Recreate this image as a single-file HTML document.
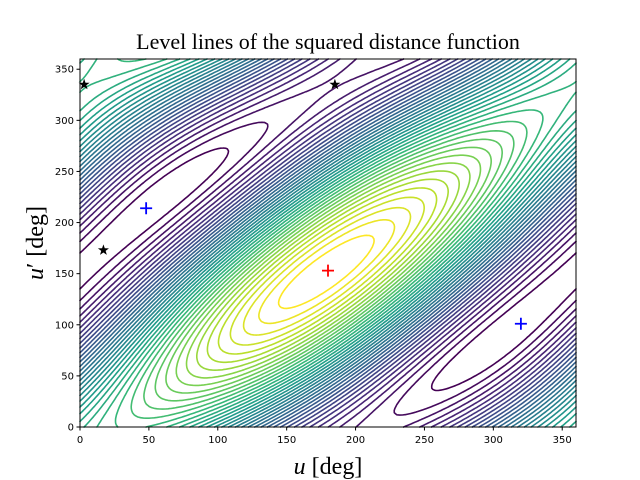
<!DOCTYPE html>
<html><head><meta charset="utf-8"><style>
html,body{margin:0;padding:0;background:#fff;}
svg{display:block;}
</style></head><body>
<svg id="chart" width="640" height="480" viewBox="0 0 640 480" xmlns="http://www.w3.org/2000/svg">
<rect width="640" height="480" fill="#fff"/>
<text x="328" y="49" text-anchor="middle" font-family="Liberation Serif, serif" font-size="22">Level lines of the squared distance function</text>
<g id="contours"></g>
<g id="markers"></g>
<rect x="80" y="59" width="496" height="368" fill="none" stroke="#000" stroke-width="1"/>
<g id="xticks"></g>
<g id="yticks"></g>
<text x="328" y="474" text-anchor="middle" font-family="Liberation Serif, serif" font-size="24"><tspan font-style="italic">u</tspan> [deg]</text>
<text transform="translate(43,243) rotate(-90)" text-anchor="middle" font-family="Liberation Serif, serif" font-size="24"><tspan font-style="italic">u</tspan>′ [deg]</text>
</svg>
<script>
// function parameters: f = R cos(u-v-phi) - P cos(u) - Q cos(v-beta) + S cos(u+v-c)
const coefR = [3.0, 27];
const coefP = [0.8, 0];
const coefQ = [0.57, 333];
const coefS = [0.08, 163];
const tickValues = [0, 50, 100, 150, 200, 250, 300, 350];
const saddleU = [3, 17, 185];
const saddleV = [335, 173, 335];
const minimaU = [48, 320];
const minimaV = [214, 101];
const maximumU = [180];
const maximumV = [153];
const levelCount = 40;

const NS = "http://www.w3.org/2000/svg";
const X0 = 80, X1 = 576, Y0 = 427, Y1 = 59;
function xs(u){ return X0 + u * (X1 - X0) / 360; }
function ys(v){ return Y0 - v * (Y0 - Y1) / 360; }
const rad = Math.PI / 180;
function f(u, v){
  return coefR[0] * Math.cos((u - v - coefR[1]) * rad)
       - coefP[0] * Math.cos((u - coefP[1]) * rad)
       - coefQ[0] * Math.cos((v - coefQ[1]) * rad)
       + coefS[0] * Math.cos((u + v - coefS[1]) * rad);
}
const vir = [[68,1,84],[72,40,120],[62,73,137],[49,104,142],[38,130,142],[31,158,137],[53,183,121],[109,205,89],[180,222,44],[253,231,37]];
function viridis(t){
  t = Math.max(0, Math.min(1, t)) * (vir.length - 1);
  const i = Math.min(vir.length - 2, Math.floor(t)), fr = t - i;
  const c = vir[i].map((a, k) => Math.round(a + (vir[i + 1][k] - a) * fr));
  return "rgb(" + c.join(",") + ")";
}
const N = 180, step = 360 / N;
const grid = [];
let fmin = Infinity, fmax = -Infinity;
for (let i = 0; i <= N; i++){ grid.push([]); for (let j = 0; j <= N; j++){ const val = f(i * step, j * step); grid[i].push(val); fmin = Math.min(fmin, val); fmax = Math.max(fmax, val); } }
const cg = document.getElementById("contours");
for (let L = 1; L <= levelCount; L++){
  const lev = fmin + (fmax - fmin) * L / (levelCount + 1);
  let d = "";
  for (let i = 0; i < N; i++) for (let j = 0; j < N; j++){
    const c = [[i, j], [i + 1, j], [i + 1, j + 1], [i, j + 1]];
    const pts = [];
    for (let k = 0; k < 4; k++){
      const a = c[k], b = c[(k + 1) % 4];
      const fa = grid[a[0]][a[1]] - lev, fb = grid[b[0]][b[1]] - lev;
      if ((fa < 0) !== (fb < 0)){
        const t = fa / (fa - fb);
        const u = (a[0] + (b[0] - a[0]) * t) * step, v = (a[1] + (b[1] - a[1]) * t) * step;
        pts.push([xs(u), ys(v)]);
      }
    }
    for (let p = 0; p + 1 < pts.length; p += 2)
      d += "M" + pts[p][0].toFixed(1) + " " + pts[p][1].toFixed(1) + "L" + pts[p + 1][0].toFixed(1) + " " + pts[p + 1][1].toFixed(1);
  }
  if (!d) continue;
  const path = document.createElementNS(NS, "path");
  path.setAttribute("d", d);
  path.setAttribute("fill", "none");
  path.setAttribute("stroke", viridis((L - 1) / (levelCount - 1)));
  path.setAttribute("stroke-width", "1.6");
  path.setAttribute("stroke-linecap", "round");
  
  
  cg.appendChild(path);
}
const mg = document.getElementById("markers");
function plus(u, v, color, name){
  const p = document.createElementNS(NS, "path");
  const x = xs(u), y = ys(v);
  p.setAttribute("d", "M" + (x - 6) + " " + y + "H" + (x + 6) + "M" + x + " " + (y - 6) + "V" + (y + 6));
  p.setAttribute("stroke", color);
  p.setAttribute("stroke-width", "1.8");
  
  
  mg.appendChild(p);
}
function star(u, v, name){
  const x = xs(u), y = ys(v);
  let d = "";
  for (let k = 0; k < 10; k++){
    const r = k % 2 ? 2.3 : 5.8, a = -Math.PI / 2 + k * Math.PI / 5;
    d += (k ? "L" : "M") + (x + r * Math.cos(a)).toFixed(2) + " " + (y + r * Math.sin(a)).toFixed(2);
  }
  const p = document.createElementNS(NS, "path");
  p.setAttribute("d", d + "Z");
  p.setAttribute("fill", "#000");
  
  
  mg.appendChild(p);
}
saddleU.forEach((u, k) => star(u, saddleV[k], 'saddle-star-' + k));
minimaU.forEach((u, k) => plus(u, minimaV[k], "#0000ff", 'minimum-plus-' + k));
maximumU.forEach((u, k) => plus(u, maximumV[k], "#ff0000", 'maximum-plus'));
const xg = document.getElementById("xticks"), yg = document.getElementById("yticks");
tickValues.forEach(t => {
  const l = document.createElementNS(NS, "line");
  l.setAttribute("x1", xs(t)); l.setAttribute("x2", xs(t)); l.setAttribute("y1", Y0); l.setAttribute("y2", Y0 + 3.5);
  l.setAttribute("stroke", "#000");
  
  
  xg.appendChild(l);
  const tx = document.createElementNS(NS, "text");
  tx.setAttribute("x", xs(t)); tx.setAttribute("y", Y0 + 16);
  tx.setAttribute("text-anchor", "middle");
  tx.setAttribute("font-family", "DejaVu Sans, sans-serif"); tx.setAttribute("font-size", "10");
  tx.textContent = t;
  
  
  xg.appendChild(tx);
  const m = document.createElementNS(NS, "line");
  m.setAttribute("x1", X0 - 3.5); m.setAttribute("x2", X0); m.setAttribute("y1", ys(t)); m.setAttribute("y2", ys(t));
  m.setAttribute("stroke", "#000");
  
  
  yg.appendChild(m);
  const ty = document.createElementNS(NS, "text");
  ty.setAttribute("x", X0 - 6); ty.setAttribute("y", ys(t) + 3.5);
  ty.setAttribute("text-anchor", "end");
  ty.setAttribute("font-family", "DejaVu Sans, sans-serif"); ty.setAttribute("font-size", "10");
  ty.textContent = t;
  
  
  yg.appendChild(ty);
});
</script>
</body></html>
